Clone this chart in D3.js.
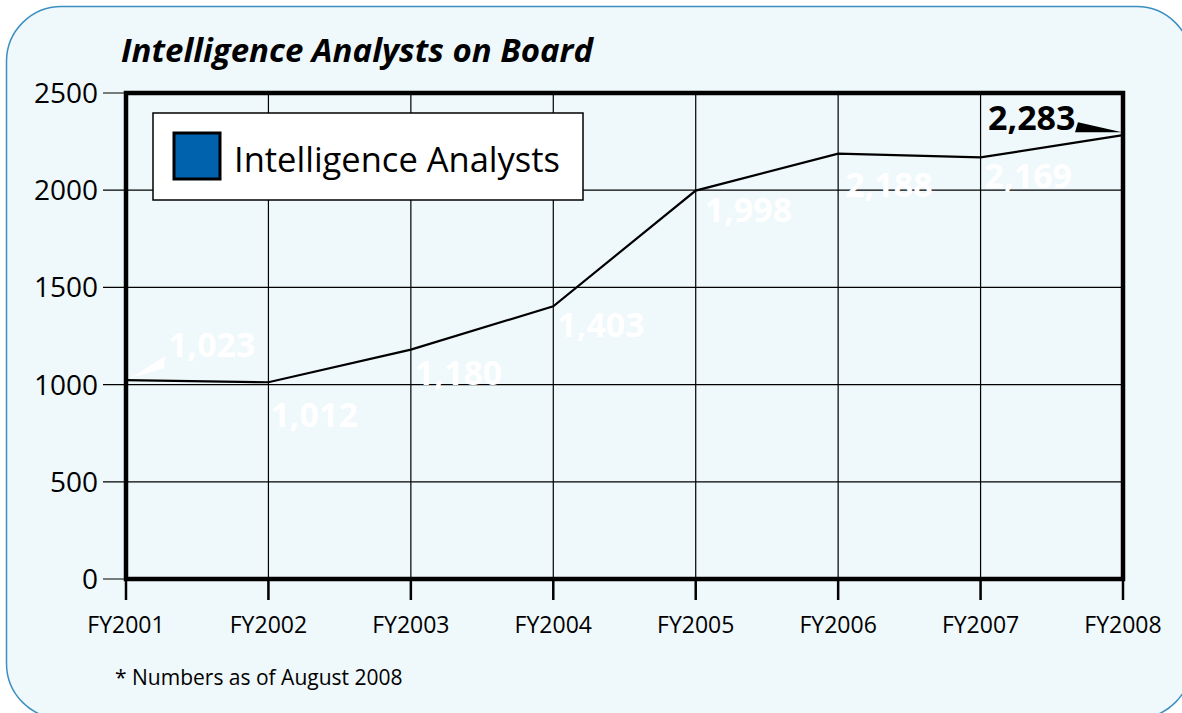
<!DOCTYPE html>
<html>
<head>
<meta charset="utf-8">
<script src="https://cdn.jsdelivr.net/npm/d3@7"></script>
<style>
  html, body { margin: 0; padding: 0; background: #fff; }
  svg { display: block; font-family: "Open Sans", "Noto Sans", sans-serif; }
</style>
</head>
<body>
<svg id="chart" width="1182" height="713"></svg>
<script>
// data
const years = ['FY2001','FY2002','FY2003','FY2004','FY2005','FY2006','FY2007','FY2008'];
const analysts = [1023, 1012, 1180, 1403, 1998, 2188, 2169, 2283];
const yTicks = [0, 500, 1000, 1500, 2000, 2500];
// label offsets from each point (dx, dy to baseline)
const labelDx = [42, 2, 4, 4, 9, 7, 4, -135];
const labelDy = [-23, 45, 35, 31, 31, 43, 31, -5];

const W = 1182, H = 713;
const svg = d3.select('#chart');

svg.append('rect').attr('width', W).attr('height', H).attr('fill', '#fff');

// panel (runs off the right and bottom edges)
svg.append('rect')
  .attr('x', 6.5).attr('y', 6.5).attr('width', 1185).attr('height', 712)
  .attr('rx', 55).attr('ry', 55)
  .attr('fill', '#eff8fb').attr('stroke', '#3d8fc2').attr('stroke-width', 1.5);

const x = d3.scalePoint().domain(years).range([126, 1123]);
const y = d3.scaleLinear().domain([0, 2500]).range([579, 93]);

// title
svg.append('text')
  .attr('x', 121).attr('y', 62)
  .attr('font-size', 33).attr('font-weight', 'bold').attr('font-style', 'italic')
  .text('Intelligence Analysts on Board');

// grid
const grid = svg.append('g').attr('stroke', '#000').attr('stroke-width', 1.2);
grid.selectAll('line.h').data(yTicks).enter().append('line')
  .attr('x1', 103).attr('x2', 1123)
  .attr('y1', d => y(d)).attr('y2', d => y(d));
grid.selectAll('line.v').data(years).enter().append('line')
  .attr('x1', d => x(d)).attr('x2', d => x(d))
  .attr('y1', 93).attr('y2', 600);

// y labels
svg.append('g').selectAll('text').data(yTicks).enter().append('text')
  .attr('x', 98).attr('y', d => y(d) + 10)
  .attr('text-anchor', 'end').attr('font-size', 28)
  .text(d => d);

// x labels
svg.append('g').selectAll('text').data(years).enter().append('text')
  .attr('x', d => x(d)).attr('y', 633)
  .attr('text-anchor', 'middle').attr('font-size', 23)
  .text(d => d);

// x tick marks (thicker)
svg.append('g').selectAll('line').data(years).enter().append('line')
  .attr('x1', d => x(d)).attr('x2', d => x(d))
  .attr('y1', 579).attr('y2', 600)
  .attr('stroke', '#000').attr('stroke-width', 2.5);

// frame
svg.append('rect')
  .attr('x', 126).attr('y', 93).attr('width', 1123 - 126).attr('height', 579 - 93)
  .attr('fill', 'none').attr('stroke', '#000').attr('stroke-width', 4.5);

// line
const line = d3.line().x((d, i) => x(years[i])).y(d => y(d));
svg.append('path').datum(analysts)
  .attr('d', line).attr('fill', 'none').attr('stroke', '#000').attr('stroke-width', 2.2);

// value labels
svg.append('g').selectAll('text').data(analysts).enter().append('text')
  .attr('x', (d, i) => x(years[i]) + labelDx[i])
  .attr('y', (d, i) => y(d) + labelDy[i])
  .attr('font-size', 34).attr('font-weight', 'bold')
  .attr('fill', (d, i) => i === analysts.length - 1 ? '#000' : '#fff')
  .text(d => d3.format(',')(d));

// pointers
const p0 = [x(years[0]), y(analysts[0])];
svg.append('path')
  .attr('d', `M${p0[0] + 4},${p0[1] - 2} L${p0[0] + 39},${p0[1] - 24} L${p0[0] + 38},${p0[1] - 12} Z`)
  .attr('fill', '#fff');
const pn = [x(years[7]), y(analysts[7])];
svg.append('path')
  .attr('d', `M${pn[0] - 1},${pn[1] - 3} L${pn[0] - 45},${pn[1] - 13} L${pn[0] - 48},${pn[1] - 3} Z`)
  .attr('fill', '#000');

// legend
svg.append('rect')
  .attr('x', 153).attr('y', 113).attr('width', 430).attr('height', 87)
  .attr('fill', '#fff').attr('stroke', '#000').attr('stroke-width', 1.5);
svg.append('rect')
  .attr('x', 174).attr('y', 133).attr('width', 46).attr('height', 46)
  .attr('fill', '#0061ad').attr('stroke', '#000').attr('stroke-width', 3);
svg.append('text')
  .attr('x', 234).attr('y', 172)
  .attr('font-size', 34.5)
  .text('Intelligence Analysts');

// footnote
svg.append('text')
  .attr('x', 115).attr('y', 685)
  .attr('font-size', 21)
  .text('* Numbers as of August 2008');
</script>
</body>
</html>
